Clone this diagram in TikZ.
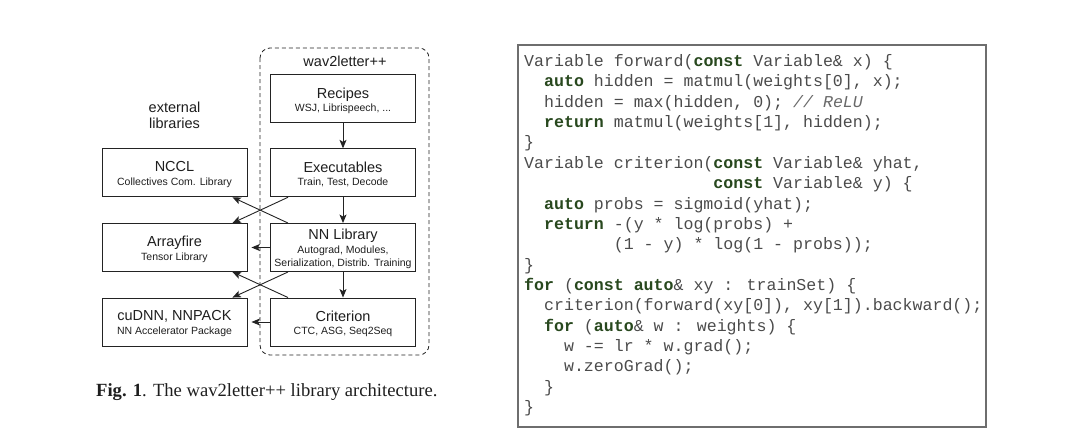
\documentclass[tikz,border=0pt]{standalone}
\usepackage{fontspec}
\setmainfont{Liberation Serif}
\setsansfont{Liberation Sans}
\newfontfamily\codefont{Liberation Mono}
\usepackage{tikz}
\usetikzlibrary{arrows.meta, positioning}
\tikzset{>={Stealth[length=8.5pt,width=7pt,inset=2pt]}}

\definecolor{linecol}{RGB}{35,35,35}
\definecolor{txtcol}{RGB}{30,30,30}
\definecolor{codecol}{RGB}{75,75,75}
\definecolor{kwgreen}{RGB}{40,72,30}
\definecolor{cmtgray}{RGB}{105,105,105}
\definecolor{framecol}{RGB}{110,110,110}

\newcommand{\ttlfont}{\sffamily\fontsize{14.5}{17}\selectfont}
\newcommand{\subfont}{\sffamily\fontsize{10.5}{12}\selectfont}
\newcommand{\kw}[1]{\textbf{\color{kwgreen}#1}}
\newcommand{\cmt}[1]{\textit{\color{cmtgray}#1}}
\newlength{\cw}\setlength{\cw}{9.96pt}
\newcommand{\ind}[1]{\hspace*{#1\cw}}

\tikzset{
  libbox/.style={draw=linecol, line width=0.9pt, minimum width=145pt, minimum height=48pt, inner sep=0pt},
  ttl/.style={anchor=base, inner sep=0pt, font=\ttlfont, text=txtcol},
  sub/.style={anchor=base, inner sep=0pt, font=\subfont, text=txtcol},
  arr/.style={->, draw=linecol, line width=0.9pt},
  codeline/.style={anchor=base west, inner sep=0pt, font={\codefont\fontsize{16.6}{20}\selectfont}, text=codecol},
}

\begin{document}
\begin{tikzpicture}[x=1pt, y=-1pt]
        \useasboundingbox (0,0) rectangle (1080,437);

        \draw [linecol, line width=0.8pt, dash pattern=on 4pt off 3pt, rounded corners=10pt] (260,48) rectangle (429,355);
        \node[ttl] (w2l) at (345,66.5) {wav2letter++};
        \node[ttl] (ext1) at (174.5,112.5) {external};
        \node[ttl] (ext2) at (174.5,128) {libraries};

        \node[libbox] (recipes) at (343,98.3) {};
        \node[ttl] (recipes-t) at ([yshift=0pt]recipes.center) {Recipes};
        \node[sub] (recipes-s) at ([yshift=-13.5pt]recipes.center) {WSJ, Librispeech, ...};

        \node[libbox] (exe) at (343,172.8) {};
        \node[ttl] (exe-t) at ([yshift=0pt]exe.center) {Executables};
        \node[sub] (exe-s) at ([yshift=-13pt]exe.center) {Train, Test, Decode};

        \node[libbox] (nn) at (343,247.5) {};
        \node[ttl] (nn-t) at ([yshift=8pt]nn.center) {NN Library};
        \node[sub] (nn-s1) at ([yshift=-6pt]nn.center) {Autograd, Modules,};
        \node[sub] (nn-s2) at ([yshift=-18.5pt]nn.center) {Serialization, Distrib. Training};

        \node[libbox] (crit) at (343,322) {};
        \node[ttl] (crit-t) at ([yshift=1pt]crit.center) {Criterion};
        \node[sub] (crit-s) at ([yshift=-12.5pt]crit.center) {CTC, ASG, Seq2Seq};

        \node[libbox] (nccl) at (174.5,172.8) {};
        \node[ttl] (nccl-t) at ([yshift=1pt]nccl.center) {NCCL};
        \node[sub] (nccl-s) at ([yshift=-13pt]nccl.center) {Collectives Com. Library};

        \node[libbox] (af) at (174.5,247.5) {};
        \node[ttl] (af-t) at ([yshift=1pt]af.center) {Arrayfire};
        \node[sub] (af-s) at ([yshift=-12.5pt]af.center) {Tensor Library};

        \node[libbox] (cudnn) at (174.5,322) {};
        \node[ttl] (cudnn-t) at ([yshift=2pt]cudnn.center) {cuDNN, NNPACK};
        \node[sub] (cudnn-s) at ([yshift=-12.5pt]cudnn.center) {NN Accelerator Package};

        \draw[arr] (recipes) -- (exe);
        \draw[arr] (exe) -- (nn);
        \draw[arr] (nn) -- (crit);
        \draw[arr, shorten >=4pt] (nn) -- (af);
        \draw[arr, shorten >=4pt] (crit) -- (cudnn);
        \draw[arr] ([xshift=18pt]exe.south west) -- ([xshift=-15pt]af.north east);
        \draw[arr] ([xshift=18pt]nn.north west) -- ([xshift=-15pt]nccl.south east);
        \draw[arr] ([xshift=18pt]nn.south west) -- ([xshift=-15pt]cudnn.north east);
        \draw[arr] ([xshift=18pt]crit.north west) -- ([xshift=-15pt]af.south east);

        \node[anchor=base west, inner sep=0pt, text=txtcol, font={\fontsize{18.6}{22}\selectfont}] (caption) at (96,396) {\textbf{Fig. 1}. The wav2letter++ library architecture.};

        \draw [framecol, line width=1.2pt] (518,45) rectangle (986,427);
        \node[codeline] (c1) at (524,66.5) {Variable forward(\kw{const} Variable\& x) \{};
        \node[codeline] (c2) at (524,86.9) {\ind{2}\kw{auto} hidden = matmul(weights[0], x);};
        \node[codeline] (c3) at (524,107.2) {\ind{2}hidden = max(hidden, 0); \cmt{// ReLU}};
        \node[codeline] (c4) at (524,127.6) {\ind{2}\kw{return} matmul(weights[1], hidden);};
        \node[codeline] (c5) at (524,147.9) {\}};
        \node[codeline] (c6) at (524,168.3) {Variable criterion(\kw{const} Variable\& yhat,};
        \node[codeline] (c7) at (524,188.6) {\ind{19}\kw{const} Variable\& y) \{};
        \node[codeline] (c8) at (524,209.0) {\ind{2}\kw{auto} probs = sigmoid(yhat);};
        \node[codeline] (c9) at (524,229.3) {\ind{2}\kw{return} -(y * log(probs) +};
        \node[codeline] (c10) at (524,249.7) {\ind{9}(1 - y) * log(1 - probs));};
        \node[codeline] (c11) at (524,270.0) {\}};
        \node[codeline] (c12) at (524,290.4) {\kw{for} (\kw{const} \kw{auto}\& xy : trainSet) \{};
        \node[codeline] (c13) at (524,310.7) {\ind{2}criterion(forward(xy[0]), xy[1]).backward();};
        \node[codeline] (c14) at (524,331.1) {\ind{2}\kw{for} (\kw{auto}\& w : weights) \{};
        \node[codeline] (c15) at (524,351.4) {\ind{4}w -= lr * w.grad();};
        \node[codeline] (c16) at (524,371.8) {\ind{4}w.zeroGrad();};
        \node[codeline] (c17) at (524,392.1) {\ind{2}\}};
        \node[codeline] (c18) at (524,412.5) {\}};
\end{tikzpicture}
\end{document}
